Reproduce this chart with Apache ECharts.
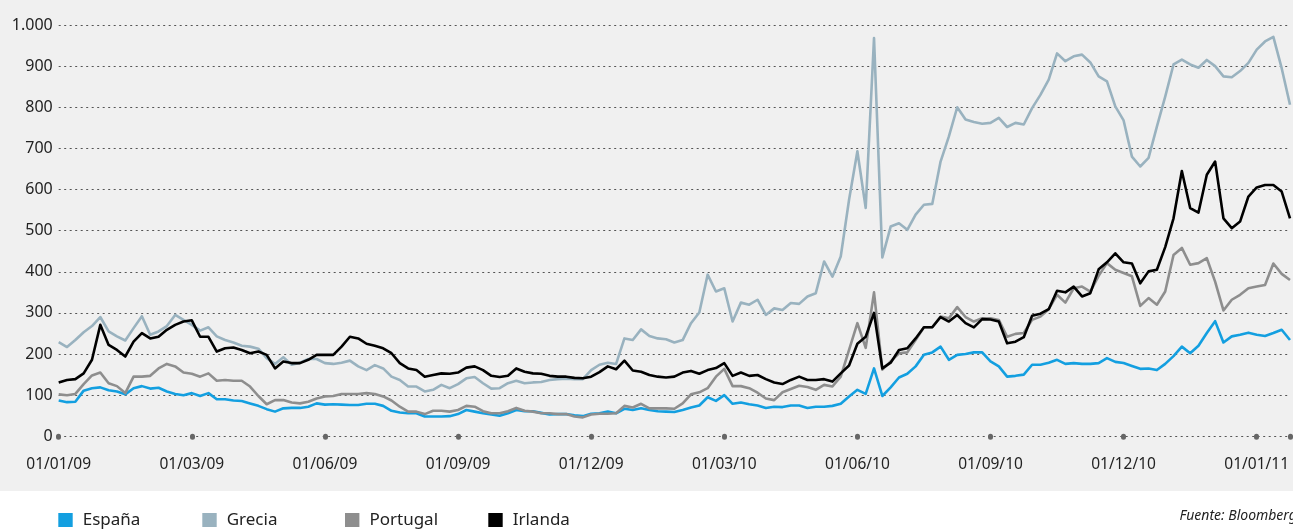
<!DOCTYPE html>
<html>
<head>
<meta charset="utf-8">
<script src="https://cdn.jsdelivr.net/npm/echarts@6/dist/echarts.min.js"></script>
<style>
html,body{margin:0;padding:0;background:#ffffff;}
#chart{width:1293px;height:529px;}
</style>
</head>
<body>
<div id="chart"></div>
<script>
// X tick labels (equally spaced every 16 data points in the source chart)
const tickLabels = ['01/01/09','01/03/09','01/06/09','01/09/09','01/12/09','01/03/10','01/06/10','01/09/10','01/12/10','01/01/11'];
const pointsPerTick = 16;
const lastIndex = 148;

const espana = [87,83,84,111,117,119,112,109,102,117,122,116,118,109,103,100,105,98,105,90,90,87,86,80,74,66,60,68,69,69,72,80,77,78,77,76,76,79,79,74,62,58,56,56,48,
48,48,49,54,64,60,56,53,50,56,64,61,61,57,53,54,54,51,49,55,56,60,56,67,64,68,64,61,60,59,64,70,75,95,86,100,79,82,78,75,69,72,71,75,75,69,72,72,74,79,97,
113,103,165,98,119,143,152,170,198,204,218,186,198,200,204,204,182,170,145,147,150,174,174,179,186,176,178,176,176,178,190,181,178,171,164,165,161,176,195,218,202,220,251,280,228,243,247,252,247,244,251,259,234];

const grecia = [229,217,234,253,268,290,255,243,233,263,292,247,255,268,295,283,271,257,265,243,234,228,220,218,213,190,176,192,174,179,188,188,178,176,179,184,170,161,173,165,145,137,121,121,109,
113,125,117,127,141,144,129,116,117,129,135,129,131,132,137,139,140,139,139,161,174,179,176,238,234,260,244,238,236,228,234,275,301,393,352,360,279,325,320,332,295,311,307,324,322,340,348,425,388,437,575,
693,555,968,435,510,518,502,539,563,565,668,729,800,770,764,760,762,774,752,762,758,798,830,867,931,912,924,928,909,875,863,802,768,680,656,677,753,826,904,916,904,896,915,900,875,873,888,908,940,960,971,895,806];

const portugal = [102,100,103,127,148,155,129,122,105,145,145,147,165,176,170,155,152,145,153,135,137,135,135,121,98,78,88,88,82,80,84,92,97,98,103,103,103,105,103,97,87,72,60,60,54,
62,62,60,64,74,72,61,56,56,61,69,62,60,56,56,54,54,48,46,53,55,55,56,74,70,79,68,68,68,67,80,102,107,117,145,164,122,122,117,106,92,88,107,115,123,120,113,125,121,145,210,
275,215,350,162,182,202,204,234,265,265,291,287,314,290,279,287,287,283,242,249,251,283,291,309,344,325,360,364,352,390,421,405,397,389,317,336,320,352,441,458,417,421,433,376,306,332,344,360,364,368,420,395,380];

const irlanda = [131,137,139,153,186,271,222,210,194,230,251,238,242,259,271,279,282,242,242,206,214,216,210,202,206,198,165,182,178,178,186,198,198,198,218,242,238,225,220,214,202,178,165,161,145,
149,153,152,155,167,170,161,147,144,147,165,157,153,152,147,145,145,142,141,145,156,170,163,184,160,157,149,145,143,145,155,159,152,161,166,178,147,155,147,149,139,131,127,137,145,137,137,139,133,153,172,
225,242,300,165,179,210,214,238,265,265,290,279,295,275,265,285,284,279,226,230,241,293,298,309,354,350,364,340,348,406,423,445,423,420,372,401,405,460,530,645,555,544,636,668,530,506,522,583,605,611,611,595,530];

const names = ['España','Grecia','Portugal','Irlanda'];
const colors = ['#139fe0','#99b2bf','#8e8e8e','#000000'];
const values = [espana, grecia, portugal, irlanda];

const chart = echarts.init(document.getElementById('chart'), null, {renderer:'canvas'});
const FONT = 'Noto Sans';

function fmtY(v){
  if (v >= 1000) { const s = String(v); return s.slice(0, s.length-3) + '.' + s.slice(-3); }
  return String(v);
}

const legendLefts = [58.3, 202.3, 345, 488.3];

const option = {
  animation: false,
  backgroundColor: '#ffffff',
  graphic: [
    { type:'rect', z:-10, silent:true, shape:{x:0,y:0,width:1293,height:491}, style:{fill:'#f0f0f0'} },
    { type:'text', z:10, silent:true, style:{ x:1179.5, y:516, text:'Fuente: Bloomberg', font:'italic 14px "Noto Sans"', fill:'#222', verticalAlign:'middle' } }
  ],
  grid: { left: 58.7, right: 1.3, top: 25, bottom: 92.7, containLabel: false },
  legend: names.map((n,k)=>({
    data:[n], left: legendLefts[k], top: 511.5, padding:0,
    icon:'rect', itemWidth:14.4, itemHeight:14, itemGap:0,
    textStyle:{ fontFamily:FONT, fontSize:17, color:'#222', padding:[0,0,0,5] },
    selectedMode:false
  })),
  xAxis: {
    type:'value', min:0, max:lastIndex, interval:pointsPerTick,
    axisLine:{show:false},
    splitLine:{show:false},
    axisTick:{show:true, length:1, lineStyle:{color:'#666', width:5, cap:'round'}},
    axisLabel:{
      fontFamily:FONT, fontSize:15.5, color:'#222', margin:20,
      showMinLabel:true, showMaxLabel:true,
      formatter:function(v){ const k = v / pointsPerTick; return Number.isInteger(k) && tickLabels[k] ? tickLabels[k] : ''; }
    }
  },
  yAxis: {
    type:'value', min:0, max:1000, interval:100,
    axisLine:{show:false}, axisTick:{show:false},
    splitLine:{show:true, lineStyle:{color:'#555', width:1, type:[2,3.5]}},
    axisLabel:{ fontFamily:FONT, fontSize:16, color:'#222', margin:6, formatter:fmtY }
  },
  series: names.map((n,k)=>({
    name:n, type:'line', showSymbol:false, symbol:'none',
    data: values[k].map((v,i)=>[i,v]),
    lineStyle:{ color:colors[k], width:2.6, join:'round' },
    itemStyle:{ color:colors[k] },
    z: 2 + k
  }))
};
chart.setOption(option);
</script>
</body>
</html>
